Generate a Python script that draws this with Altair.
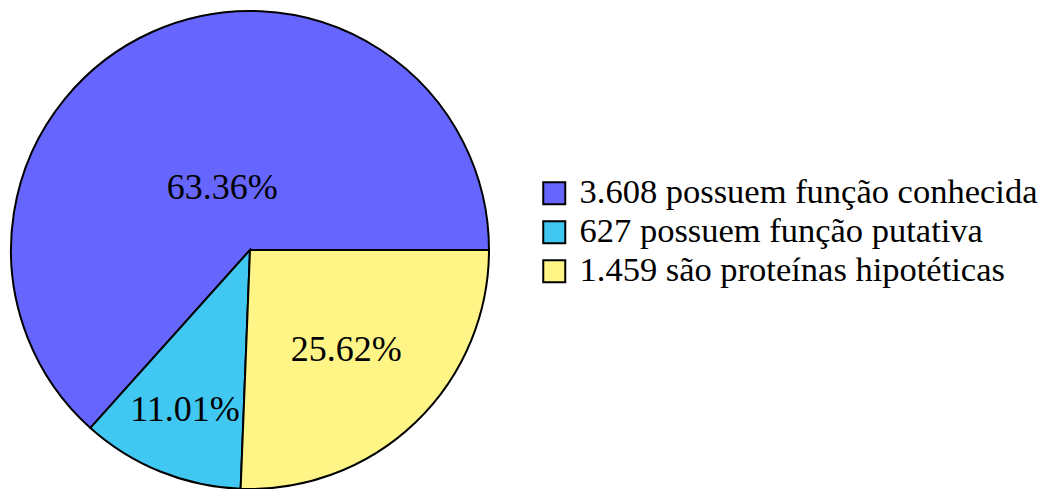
import altair as alt
import pandas as pd

categories = ["3.608 possuem função conhecida", "627 possuem função putativa", "1.459 são proteínas hipotéticas"]
counts = [3608, 627, 1459]
pct_labels = ["63.36%", "11.01%", "25.62%"]
draw_order = [2, 1, 0]  # clockwise from 3 o'clock: yellow, cyan, blue
colors = ["#6666FF", "#40C8F2", "#FFF587"]

df = pd.DataFrame({"cat": categories, "n": counts, "lab": pct_labels, "ord": draw_order})

FONT = "Liberation Serif"
PI = 3.141592653589793
theta_scale = alt.Scale(range=[PI / 2, PI / 2 + 2 * PI])

arcs = alt.Chart(df).mark_arc(radius=239, stroke="black", strokeWidth=2).encode(
    theta=alt.Theta("n:Q", stack=True, scale=theta_scale),
    order=alt.Order("ord:Q", sort="ascending"),
    x=alt.value(250),
    y=alt.value(250),
    color=alt.Color(
        "cat:N",
        sort=categories,
        scale=alt.Scale(domain=categories, range=colors),
        legend=alt.Legend(
            title=None,
            orient="none",
            legendX=537,
            legendY=176,
            symbolType="square",
            symbolSize=484,
            symbolStrokeColor="black",
            symbolStrokeWidth=2,
            symbolOpacity=1,
            labelFont=FONT,
            labelFontSize=34.5,
            labelColor="black",
            labelOffset=8,
            labelLimit=700,
            rowPadding=4,
        ),
    ),
)

texts = alt.Chart(df).transform_window(
    cum="sum(n)", sort=[alt.SortField("ord", order="ascending")], frame=[None, 0]
).transform_calculate(
    mid="datum.cum - datum.n / 2",
    lr="datum.ord == 2 ? 68 : (datum.ord == 1 ? 173 : 139)",
).mark_text(font=FONT, fontSize=36, color="black").encode(
    theta=alt.Theta("mid:Q", stack=False, scale=theta_scale),
    x=alt.value(250),
    y=alt.value(250),
    radius=alt.Radius("lr:Q", scale=None),
    text="lab:N",
)

chart = alt.layer(arcs, texts).properties(
    width=1046, height=489, padding=0, autosize=alt.AutoSizeParams(type="none")
).configure_view(stroke=None)

chart.save("out.html", embed_options={"renderer": "svg", "actions": False})
